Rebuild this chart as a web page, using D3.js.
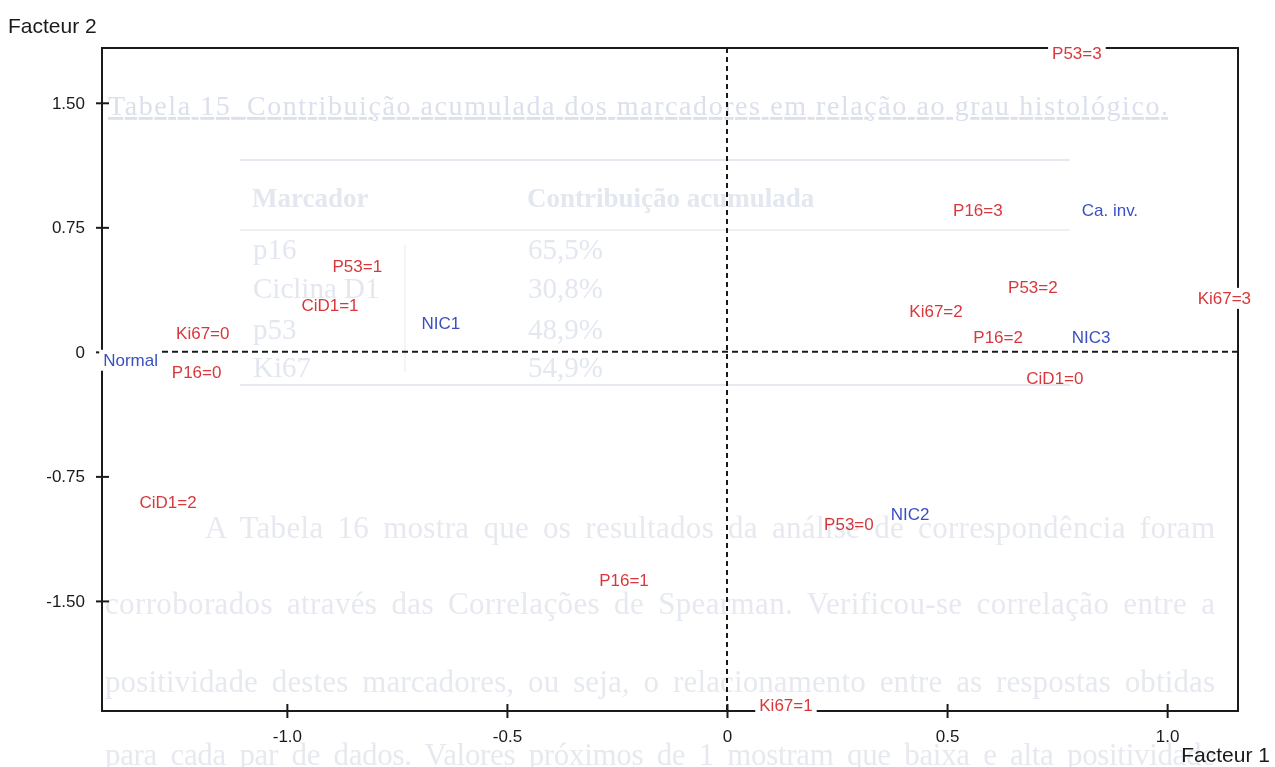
<!DOCTYPE html>
<html>
<head>
<meta charset="utf-8">
<script src="https://cdn.jsdelivr.net/npm/d3@7"></script>
<style>
  body { margin: 0; background: #fff; }
  svg { display: block; }
</style>
</head>
<body>
<div id="plot"></div>
<script>
// point labels and coordinates on factor 1 / factor 2
var labels = ["Ki67=0", "Normal", "P16=0", "CiD1=2", "P53=1", "CiD1=1", "NIC1", "P16=1", "Ki67=1", "P53=0",
              "NIC2", "Ki67=2", "P16=2", "P53=2", "CiD1=0", "NIC3", "P16=3", "Ca. inv.", "P53=3", "Ki67=3"];
var fact1 = [-1.191, -1.355, -1.205, -1.27, -0.84, -0.902, -0.65, -0.234, 0.134, 0.277,
             0.416, 0.475, 0.616, 0.695, 0.745, 0.827, 0.570, 0.870, 0.795, 1.13];
var fact2 = [0.114, -0.048, -0.12, -0.904, 0.518, 0.283, 0.175, -1.373, -2.13, -1.04,
             -0.976, 0.247, 0.09, 0.39, -0.157, 0.09, 0.855, 0.855, 1.80, 0.325];
// "mod" = marker modality (red), "grp" = lesion group (blue)
var kinds = ["mod", "grp", "mod", "mod", "mod", "mod", "grp", "mod", "mod", "mod",
             "grp", "mod", "mod", "mod", "mod", "grp", "mod", "grp", "mod", "mod"];

var xTicks = [-1.0, -0.5, 0, 0.5, 1.0];
var xTickLabels = ["-1.0", "-0.5", "0", "0.5", "1.0"];
var yTicks = [1.5, 0.75, 0, -0.75, -1.5];
var yTickLabels = ["1.50", "0.75", "0", "-0.75", "-1.50"];

// show-through text from the scanned page
var ghostTitle = "Tabela 15_Contribuição acumulada dos marcadores em relação ao grau histológico.";
var ghostHead = ["Marcador", "Contribuição acumulada"];
var ghostRows = ["p16", "Ciclina D1", "p53", "Ki67"];
var ghostPct = ["65,5%", "30,8%", "48,9%", "54,9%"];
var ghostPara = ["A Tabela 16 mostra que os resultados da análise de correspondência foram",
                 "corroborados através das Correlações de Spearman. Verificou-se correlação entre a",
                 "positividade destes marcadores, ou seja, o relacionamento entre as respostas obtidas",
                 "para cada par de dados. Valores próximos de 1 mostram que baixa e alta positividade"];

var W = 1275, H = 767;
var svg = d3.select("#plot").append("svg")
    .attr("width", W)
    .attr("height", H);

var x = d3.scaleLinear().domain([-1.42, 1.161]).range([102, 1238]);
var y = d3.scaleLinear().domain([-2.163, 1.83]).range([711, 48]);

var red = "#d8383c", blue = "#3a50c2", ink = "#1a1a1a";
var sans = "Arial, 'Liberation Sans', sans-serif";

//////////
// FRAME //
//////////

svg.append("rect")
    .attr("x", x.range()[0]).attr("y", y.range()[1])
    .attr("width", x.range()[1] - x.range()[0])
    .attr("height", y.range()[0] - y.range()[1])
    .attr("fill", "none")
    .attr("stroke", ink)
    .attr("stroke-width", 2);

// zero lines
svg.append("line")
    .attr("x1", x.range()[0]).attr("x2", x.range()[1])
    .attr("y1", y(0)).attr("y2", y(0))
    .attr("stroke", ink).attr("stroke-width", 2)
    .attr("stroke-dasharray", "6,4");
svg.append("line")
    .attr("x1", x(0)).attr("x2", x(0))
    .attr("y1", y.range()[1]).attr("y2", y.range()[0])
    .attr("stroke", ink).attr("stroke-width", 2)
    .attr("stroke-dasharray", "5,4");

//////////
// AXIS //
//////////

var xAxis = svg.append("g")
    .attr("transform", "translate(0," + y.range()[0] + ")")
    .call(d3.axisBottom(x).tickValues(xTicks)
        .tickFormat(function(d, i) { return xTickLabels[i]; })
        .tickSize(7).tickPadding(12));
var yAxis = svg.append("g")
    .attr("transform", "translate(" + x.range()[0] + ",0)")
    .call(d3.axisLeft(y).tickValues(yTicks)
        .tickFormat(function(d, i) { return yTickLabels[i]; })
        .tickSize(6).tickPadding(11));

// ticks cross the axis line
xAxis.selectAll(".tick line").attr("y1", -7).attr("y2", 7);
yAxis.selectAll(".tick line").attr("x1", -6).attr("x2", 7);
[xAxis, yAxis].forEach(function(a) {
    a.select(".domain").remove();
    a.selectAll(".tick line").attr("stroke", ink).attr("stroke-width", 2);
    a.selectAll(".tick text")
        .attr("fill", ink)
        .style("font-family", sans)
        .style("font-size", "17px");
});

// axis titles
svg.append("text")
    .attr("x", 8).attr("y", 33)
    .attr("fill", ink)
    .style("font-family", sans).style("font-size", "21px")
    .text("Facteur 2");
svg.append("text")
    .attr("x", 1270).attr("y", 762)
    .attr("text-anchor", "end")
    .attr("fill", ink)
    .style("font-family", sans).style("font-size", "21px")
    .text("Facteur 1");

////////////
// LABELS //
////////////

var pts = labels.map(function(d, i) {
    return {label: d, f1: fact1[i], f2: fact2[i], kind: kinds[i]};
});

var boxes = svg.append("g");
var texts = svg.append("g")
    .selectAll("text")
    .data(pts)
    .enter()
    .append("text")
    .attr("x", function(d) { return x(d.f1); })
    .attr("y", function(d) { return y(d.f2); })
    .attr("dy", "0.35em")
    .attr("text-anchor", "middle")
    .attr("fill", function(d) { return d.kind === "grp" ? blue : red; })
    .style("font-family", sans)
    .style("font-size", "17px")
    .text(function(d) { return d.label; });

// white boxes behind labels hide the lines they sit on
texts.each(function() {
    var b = this.getBBox();
    boxes.append("rect")
        .attr("x", b.x - 4).attr("y", b.y - 1)
        .attr("width", b.width + 8).attr("height", b.height + 2)
        .attr("fill", "#fff");
});

//////////////////
// SHOW-THROUGH //
//////////////////

var ghost = svg.append("g")
    .style("mix-blend-mode", "multiply")
    .style("font-family", "'Times New Roman', 'Liberation Serif', serif");

ghost.append("text")
    .attr("x", 108).attr("y", 115)
    .attr("textLength", 1060).attr("lengthAdjust", "spacing")
    .attr("fill", "#dbe0ec")
    .style("font-size", "28px")
    .style("text-decoration", "underline")
    .text(ghostTitle);

ghost.append("line").attr("x1", 240).attr("x2", 1070).attr("y1", 160).attr("y2", 160)
    .attr("stroke", "#e6e9f0").attr("stroke-width", 2);
ghost.append("line").attr("x1", 240).attr("x2", 1070).attr("y1", 230).attr("y2", 230)
    .attr("stroke", "#eef0f4").attr("stroke-width", 2);
ghost.append("line").attr("x1", 240).attr("x2", 1070).attr("y1", 385).attr("y2", 385)
    .attr("stroke", "#e6e9f0").attr("stroke-width", 2);
ghost.append("line").attr("x1", 405).attr("x2", 405).attr("y1", 245).attr("y2", 372)
    .attr("stroke", "#eef0f4").attr("stroke-width", 1.5);

ghost.selectAll("text.head")
    .data(ghostHead)
    .enter().append("text")
    .attr("class", "head")
    .attr("x", function(d, i) { return i === 0 ? 252 : 527; })
    .attr("y", 207)
    .attr("fill", "#e3e7ef")
    .style("font-size", "27px")
    .style("font-weight", "bold")
    .text(function(d) { return d; });

ghost.selectAll("text.row")
    .data(ghostRows)
    .enter().append("text")
    .attr("class", "row")
    .attr("x", 253)
    .attr("y", function(d, i) { return [259, 298, 339, 377][i]; })
    .attr("fill", "#e3e7ef")
    .style("font-size", "29px")
    .text(function(d) { return d; });

ghost.selectAll("text.pct")
    .data(ghostPct)
    .enter().append("text")
    .attr("class", "pct")
    .attr("x", 528)
    .attr("y", function(d, i) { return [259, 298, 339, 377][i]; })
    .attr("fill", "#e3e7ef")
    .style("font-size", "29px")
    .text(function(d) { return d; });

ghost.selectAll("text.para")
    .data(ghostPara)
    .enter().append("text")
    .attr("class", "para")
    .attr("x", function(d, i) { return i === 0 ? 205 : 105; })
    .attr("y", function(d, i) { return [538, 614, 692, 765][i]; })
    .attr("textLength", function(d, i) { return i === 0 ? 1010 : 1110; })
    .attr("lengthAdjust", "spacing")
    .attr("fill", "#e6e9ef")
    .style("font-size", "31px")
    .style("word-spacing", "6px")
    .text(function(d) { return d; });
</script>
</body>
</html>
